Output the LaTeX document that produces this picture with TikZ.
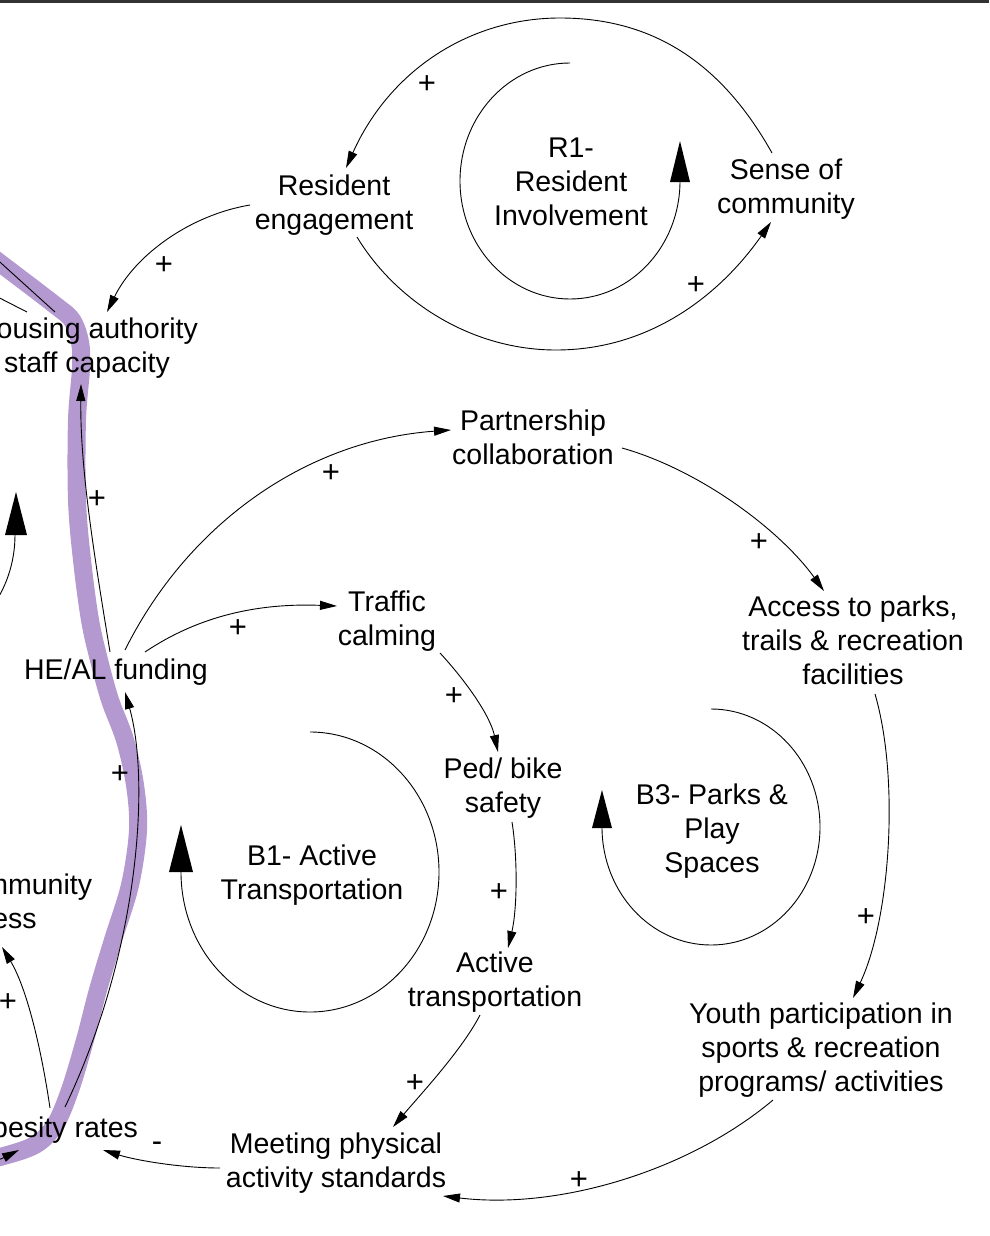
\documentclass[tikz,border=0pt]{standalone}
\usepackage{fontspec}
\setmainfont{Liberation Sans}
\usetikzlibrary{arrows.meta}
\definecolor{bandpurple}{RGB}{180,152,208}
\begin{document}
\begin{tikzpicture}[x=1pt,y=-1pt,
  lbl/.style={font=\fontsize{28.5}{34}\selectfont, align=center, inner sep=0pt},
  sgn/.style={font=\fontsize{31}{34}\selectfont, inner sep=0pt},
  conn/.style={line width=0.9pt, -{Triangle[length=17pt,width=9pt]}},
  plainconn/.style={line width=0.9pt},
  loopline/.style={line width=0.9pt},
  looptip/.style={fill=black},
]
\useasboundingbox (0,0) rectangle (989,1236);
\clip (0,0) rectangle (989,1236);

% highlighted purple path
\draw[bandpurple, line width=18pt, line join=round, line cap=round]
  plot[smooth, tension=0.55] coordinates {(-30,240) (0,263) (55,305) (72,320) (80,342) (81,368) (77,420) (77,500) (82,560) (90,620) (99,660) (110,700) (125,740) (135,785) (138,830) (130,885) (113,940) (98,990) (85,1040) (70,1090) (55,1125) (35,1145) (0,1157) (-30,1163)};

% variable nodes
\node[lbl] (housing) at (87,348) {Housing authority\\staff capacity};
\node[lbl] (resident) at (334,205) {Resident\\engagement};
\node[lbl] (sense) at (786,189) {Sense of\\community};
\node[lbl] (partner) at (533,437) {Partnership\\collaboration};
\node[lbl] (traffic) at (387,621) {Traffic\\calming};
\node[lbl] (access) at (853,640) {Access to parks,\\trails \& recreation\\facilities};
\node[lbl] (heal) at (116,672) {HE/AL funding};
\node[lbl] (ped) at (503,788) {Ped/ bike\\safety};
\node[lbl] (active) at (495,982) {Active\\transportation};
\node[lbl] (youth) at (821,1050) {Youth participation in\\sports \& recreation\\programs/ activities};
\node[lbl] (meeting) at (336,1163) {Meeting physical\\activity standards};
\node[lbl] (obesity) at (54,1130) {Obesity rates};
\node[lbl, align=left] (community) at (20,901) {Community\\access};

% loop labels
\node[lbl] (r1) at (571,182) {R1-\\Resident\\Involvement};
\node[lbl] (b1) at (312,875) {B1- Active\\Transportation};
\node[lbl] (b3) at (712,831) {B3- Parks \&\\Play\\Spaces};

% loop markers
\draw[loopline] (570,63) arc[start angle=-90, end angle=-360, x radius=110, y radius=118];
\fill[looptip] (670,182) -- (690,182) -- (680,141) -- cycle;
\draw[loopline] (310,732) arc[start angle=-90, end angle=180, x radius=129, y radius=140];
\fill[looptip] (169,872) -- (193,872) -- (181,825) -- cycle;
\draw[loopline] (711,709) arc[start angle=-90, end angle=180, x radius=109, y radius=118];
\fill[looptip] (592,828) -- (612,828) -- (602,790) -- cycle;
\draw[loopline] (15,535) arc[start angle=0, end angle=40, x radius=110, y radius=118];
\fill[looptip] (5,535) -- (27,535) -- (16,492) -- cycle;

% free ends off the picture
\coordinate (offA) at (-20,244);
\coordinate (offB) at (-20,288);
\coordinate (offC) at (-40,1168);

% connectors
\draw[conn] ([shift={(-14,-36)}]sense.center) .. controls (720,60) and (650,18) .. (560,18)
  .. controls (470,18) and (390,70) .. ([shift={(12,-37)}]resident.center);
\draw[conn] ([shift={(23,32)}]resident.center) .. controls (395,300) and (470,350) .. (556,350)
  .. controls (650,350) and (720,295) .. ([shift={(-15,33)}]sense.center);
\draw[conn] ([shift={(-84,0)}]resident.center) .. controls (190,215) and (135,255) .. ([shift={(20,-36)}]housing.center);
\draw[plainconn] ([shift={(-32,-36)}]housing.center) -- (offA);
\draw[plainconn] ([shift={(-60,-36)}]housing.center) -- (offB);
\draw[conn] ([shift={(-6,-20)}]heal.center) .. controls (95,560) and (80,470) .. ([shift={(-6,36)}]housing.center);
\draw[conn] ([shift={(11,-23)}]obesity.center) .. controls (140,950) and (150,780) .. ([shift={(9,20)}]heal.center);
\draw[conn] ([shift={(-4,-22)}]obesity.center) .. controls (40,1040) and (25,985) .. ([shift={(-18,46)}]community.center);
\draw[conn] (offC) .. controls (-10,1165) and (5,1157) .. ([shift={(-35,20)}]obesity.center);
\draw[conn] ([shift={(-116,5)}]meeting.center) .. controls (180,1168) and (135,1160) .. ([shift={(49,20)}]obesity.center);
\draw[conn] ([shift={(-48,50)}]youth.center) .. controls (690,1170) and (560,1210) .. ([shift={(107,33)}]meeting.center);
\draw[conn] ([shift={(-15,33)}]active.center) .. controls (462,1050) and (420,1095) .. ([shift={(57,-36)}]meeting.center);
\draw[conn] ([shift={(9,34)}]ped.center) .. controls (518,860) and (517,910) .. ([shift={(13,-34)}]active.center);
\draw[conn] ([shift={(53,32)}]traffic.center) .. controls (465,680) and (490,715) .. ([shift={(-5,-36)}]ped.center);
\draw[conn] ([shift={(29,-20)}]heal.center) .. controls (200,615) and (260,603) .. ([shift={(-50,-15)}]traffic.center);
\draw[conn] ([shift={(9,-22)}]heal.center) .. controls (190,520) and (310,440) .. ([shift={(-82,-7)}]partner.center);
\draw[conn] ([shift={(89,11)}]partner.center) .. controls (700,470) and (780,530) .. ([shift={(-29,-49)}]access.center);
\draw[conn] ([shift={(22,54)}]access.center) .. controls (900,780) and (890,920) .. ([shift={(32,-52)}]youth.center);

% polarity signs
\node[sgn] (s1) at (427,85) {+};
\node[sgn] (s2) at (696,286) {+};
\node[sgn] (s3) at (164,266) {+};
\node[sgn] (s4) at (97,500) {+};
\node[sgn] (s5) at (120,775) {+};
\node[sgn] (s6) at (8,1003) {+};
\node[sgn] (s7) at (157,1147) {-};
\node[sgn] (s8) at (331,474) {+};
\node[sgn] (s9) at (238,629) {+};
\node[sgn] (s10) at (759,543) {+};
\node[sgn] (s11) at (454,697) {+};
\node[sgn] (s12) at (499,893) {+};
\node[sgn] (s13) at (866,918) {+};
\node[sgn] (s14) at (415,1084) {+};
\node[sgn] (s15) at (579,1181) {+};

% top border
\draw[line width=3pt, black!80] (0,1.5) -- (989,1.5);
\end{tikzpicture}
\end{document}
